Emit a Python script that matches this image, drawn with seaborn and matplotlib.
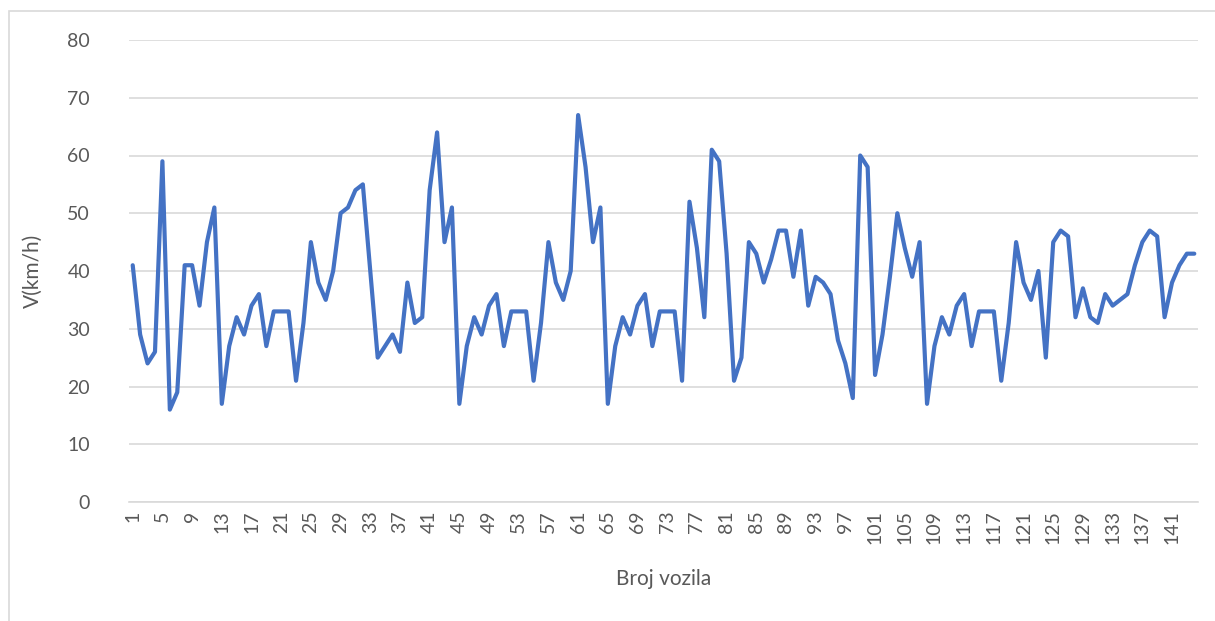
import matplotlib
matplotlib.use("Agg")
import matplotlib.pyplot as plt
import seaborn as sns
import pandas as pd
from matplotlib.patches import Rectangle

speed = [41, 29, 24, 26, 59, 16, 19, 41, 41, 34, 45, 51, 17, 27, 32, 29, 34, 36, 27, 33,
         33, 33, 21, 31, 45, 38, 35, 40, 50, 51, 54, 55, 40, 25, 27, 29, 26, 38, 31, 32,
         54, 64, 45, 51, 17, 27, 32, 29, 34, 36, 27, 33, 33, 33, 21, 31, 45, 38, 35, 40,
         67, 58, 45, 51, 17, 27, 32, 29, 34, 36, 27, 33, 33, 33, 21, 52, 44, 32, 61, 59,
         43, 21, 25, 45, 43, 38, 42, 47, 47, 39, 47, 34, 39, 38, 36, 28, 24, 18, 60, 58,
         22, 29, 39, 50, 44, 39, 45, 17, 27, 32, 29, 34, 36, 27, 33, 33, 33, 21, 31, 45,
         38, 35, 40, 25, 45, 47, 46, 32, 37, 32, 31, 36, 34, 35, 36, 41, 45, 47, 46, 32,
         38, 41, 43, 43]
vehicle = list(range(1, len(speed) + 1))
x_ticks = list(range(1, 142, 4))
y_ticks = [0, 10, 20, 30, 40, 50, 60, 70, 80]
x_title = "Broj vozila"
y_title = "V(km/h)"

df = pd.DataFrame({"vehicle": vehicle, "speed": speed})

sns.set_style("white")
plt.rcParams["font.family"] = ["Lato", "DejaVu Sans"]

W, H = 1215, 621
fig = plt.figure(figsize=(W / 100, H / 100), dpi=100)
fig.patch.set_facecolor("white")
# chart-area border (Excel style)
fig.add_artist(Rectangle((8.5 / W, -0.1), 1.2, (H - 11) / H + 0.1, transform=fig.transFigure,
                         fill=False, edgecolor="#d9d9d9", linewidth=1.2))

left, right, top, bottom = 129, 1198, 40, 502
ax = fig.add_axes([left / W, (H - bottom) / H, (right - left) / W, (bottom - top) / H])

sns.lineplot(data=df, x="vehicle", y="speed", ax=ax, color="#4472C4", linewidth=3.0,
             solid_joinstyle="round", solid_capstyle="round", zorder=3)

ax.set_xlim(0.5, len(speed) + 0.5)
ax.set_ylim(0, 80)
ax.set_yticks(y_ticks)
ax.set_xticks(x_ticks)
ax.set_xticklabels([str(t) for t in x_ticks], rotation=90)
ax.grid(axis="y", color="#d9d9d9", linewidth=1.2, zorder=0)
ax.grid(axis="x", visible=False)
for s in ["top", "right", "left"]:
    ax.spines[s].set_visible(False)
ax.spines["bottom"].set_color("#d9d9d9")
ax.spines["bottom"].set_linewidth(1.2)
ax.tick_params(axis="both", length=0, labelsize=14, labelcolor="#595959")
ax.tick_params(axis="y", pad=28)
ax.tick_params(axis="x", pad=6)

ax.set_xlabel(x_title, fontsize=15, color="#595959")
ax.set_ylabel(y_title, fontsize=15, color="#595959")
ax.xaxis.set_label_coords((664 - left) / (right - left), -(569 - bottom) / (bottom - top))
ax.yaxis.set_label_coords(-(left - 43) / (right - left), 0.5)

fig.savefig("out.png", dpi=100, facecolor="white")
